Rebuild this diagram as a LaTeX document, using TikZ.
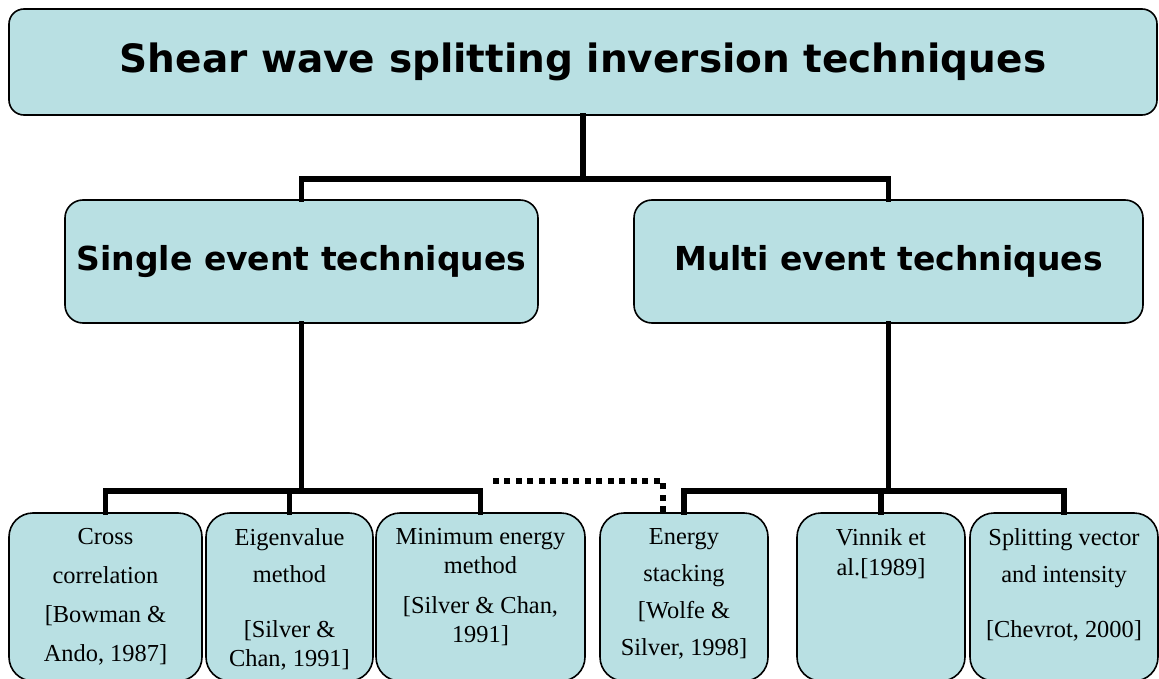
\documentclass[tikz,border=0pt]{standalone}
\usepackage{fontspec}
\setmainfont{Liberation Serif}
\newfontfamily\headfont{DejaVu Sans}
\definecolor{boxfill}{RGB}{185,224,227}
\begin{document}
\begin{tikzpicture}[x=1pt,y=-1pt,
  boxbase/.style={draw=black, line width=1.6pt, fill=boxfill, inner sep=0pt},
  headbox/.style={boxbase, rounded corners=15pt, font=\headfont\bfseries\fontsize{39}{44}\selectfont},
  groupbox/.style={boxbase, rounded corners=18pt, minimum height=123pt, font=\headfont\bfseries\fontsize{33}{40}\selectfont},
  leafbox/.style={boxbase, rounded corners=24pt, minimum height=168pt},
  leaftext/.style={anchor=north, inner sep=0pt, align=center, font=\fontsize{24.4}{29}\selectfont},
  conn/.style={line width=5.5pt, black, line cap=rect, line join=miter},
  dotconn/.style={line width=5.5pt, black, dash pattern=on 6pt off 5.5pt}]
\useasboundingbox (0,0) rectangle (1159,679);

% top level
\node[headbox, minimum width=1148pt, minimum height=106pt] (title) at (583,62)
  {Shear wave splitting inversion techniques};

% second level
\node[groupbox, minimum width=473pt] (single) at (301.5,261.5) {Single event techniques};
\node[groupbox, minimum width=509pt] (multi) at (888.5,261.5) {Multi event techniques};

% leaves
\node[leafbox, minimum width=193pt] (cross)  at (105.5,597) {};
\node[leafbox, minimum width=167pt] (eigen)  at (289.5,597) {};
\node[leafbox, minimum width=209pt] (minen)  at (480.5,597) {};
\node[leafbox, minimum width=168pt] (stack)  at (684,597) {};
\node[leafbox, minimum width=168pt] (vinnik) at (881,597) {};
\node[leafbox, minimum width=188pt] (svec)   at (1064,597) {};

\node[leaftext] (crosst)  at ([yshift=-16pt]cross.north)
  {Cross\\[10pt]correlation\\[10pt][Bowman \&\\[10pt]Ando, 1987]};
\node[leaftext] (eigent)  at ([yshift=-16pt]eigen.north)
  {Eigenvalue\\[8pt]method\\[26pt][Silver \&\\Chan, 1991]};
\node[leaftext] (minent)  at ([yshift=-16pt]minen.north)
  {Minimum energy\\method\\[11pt][Silver \& Chan,\\1991]};
\node[leaftext] (stackt)  at ([yshift=-16pt]stack.north)
  {Energy\\[8pt]stacking\\[8pt][Wolfe \&\\[8pt]Silver, 1998]};
\node[leaftext] (vinnikt) at ([yshift=-16pt]vinnik.north)
  {Vinnik et\\[1pt]al.[1989]};
\node[leaftext] (svect)   at ([yshift=-16pt]svec.north)
  {Splitting vector\\[8pt]and intensity\\[26pt][Chevrot, 2000]};

% tree connectors
\draw[conn] (title.south) -- ++(0,63) coordinate (tj);
\draw[conn] (single.north) |- (tj) -| (multi.north);

\draw[conn] (single.south) -- ++(0,167) coordinate (sj);
\draw[conn] (cross.north) |- (sj) -| (minen.north);
\draw[conn] (eigen.north) -- (eigen.north |- sj);

\draw[conn] (multi.south) -- ++(0,167) coordinate (mj);
\draw[conn] (stack.north) |- (mj) -| (svec.north);
\draw[conn] (vinnik.north) -- (vinnik.north |- mj);

% dotted link between the two groups
\coordinate (dend) at ([xshift=11pt,yshift=31pt]minen.north);
\draw[dotconn] ([xshift=-21pt]stack.north) |- (dend);
\end{tikzpicture}
\end{document}
